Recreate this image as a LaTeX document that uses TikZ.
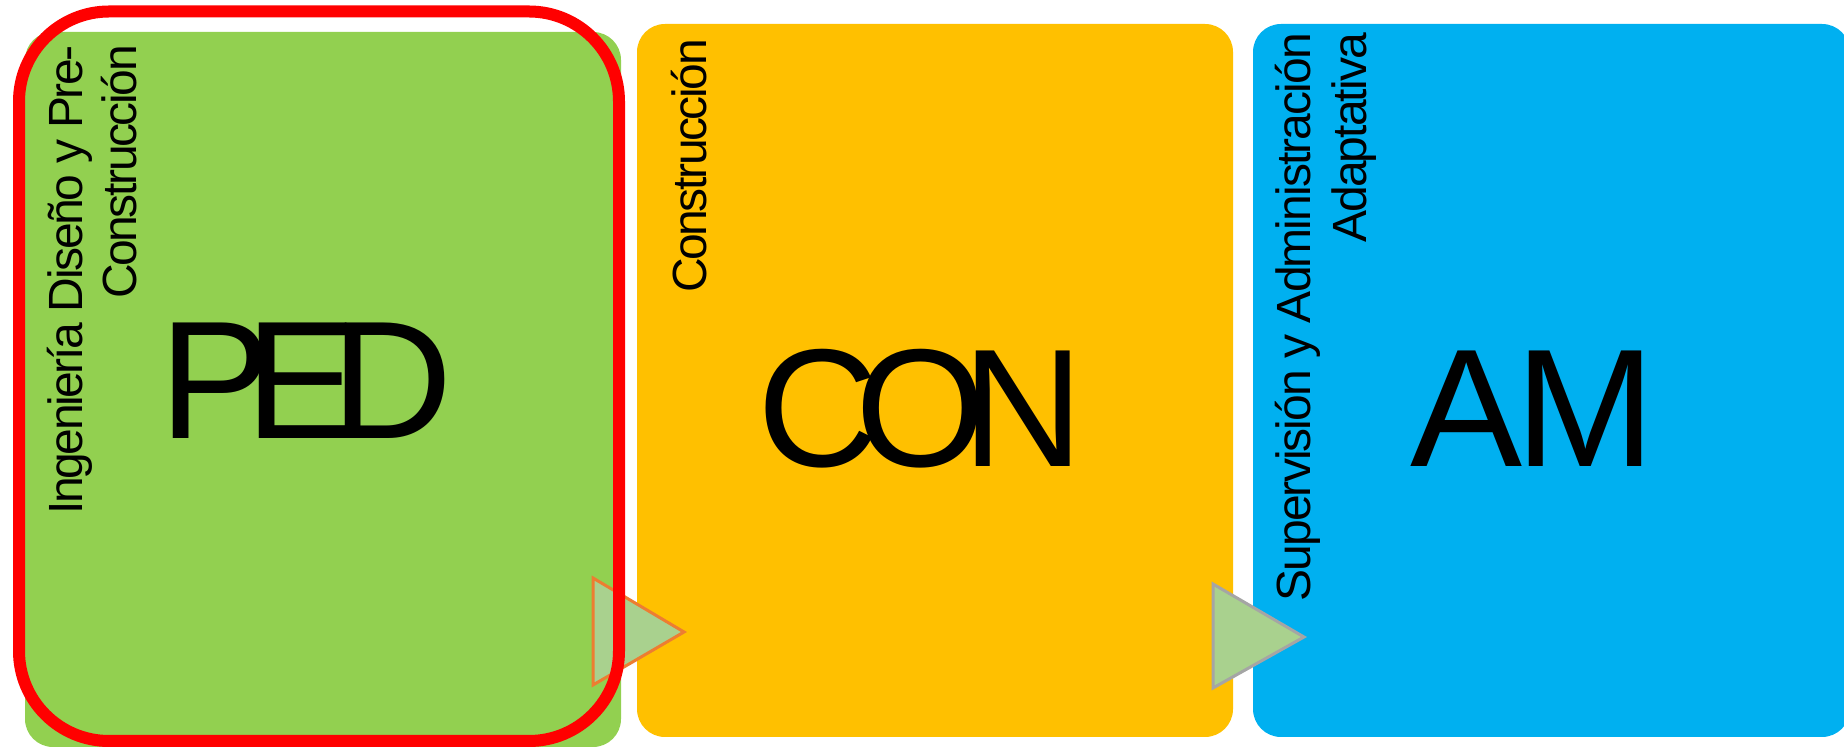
\documentclass[tikz,border=0pt]{standalone}
\usepackage{fontspec}
\setmainfont{Liberation Sans}
\newfontfamily\tightfont[LetterSpace=-5]{Liberation Sans}
\newfontfamily\tightfontb[LetterSpace=-4]{Liberation Sans}
\definecolor{pgreen}{HTML}{92D050}
\definecolor{porange}{HTML}{FFC000}
\definecolor{pblue}{HTML}{00B0F0}
\definecolor{trifill}{HTML}{A9D18E}
\definecolor{triorange}{HTML}{ED7D31}
\definecolor{trigray}{HTML}{A5A5A5}
\begin{document}
\begin{tikzpicture}[x=1pt,y=1pt,
  phase/.style={rectangle, rounded corners=28pt, inner sep=0pt, outer sep=0pt},
  steplabel/.style={rotate=90, anchor=base east, inner sep=0pt, font=\tightfont\fontsize{48}{55}\selectfont},
  steplabelb/.style={rotate=90, anchor=base east, inner sep=0pt, font=\tightfontb\fontsize{48}{55}\selectfont},
  bigtext/.style={anchor=base west, inner sep=0pt, font=\fontsize{168}{168}\selectfont},
  arrowtri/.style={fill=trifill, line width=3pt, line join=miter}]
\useasboundingbox (0,0) rectangle (1844,749);
% phase boxes
\node[phase, fill=pgreen, minimum width=596pt, minimum height=715pt] (ped) at (323,359.5) {};
\node[phase, fill=porange, minimum width=596pt, minimum height=713pt] (con) at (935,368.5) {};
\node[phase, fill=pblue, minimum width=597pt, minimum height=713pt] (am) at (1551.5,368.5) {};
% vertical labels
\node[steplabel] (pedl1) at (82,704) {Ingeniería Diseño y Pre-};
\node[steplabel] (pedl2) at (136,704) {Construcción};
\node[steplabel] (conl) at (706,710) {Construcción};
\node[steplabelb] (aml1) at (1310,716) {Supervisión y Administración};
\node[steplabelb] (aml2) at (1366,716) {Adaptativa};
% big abbreviations
\node[bigtext] (pedt) at (159,310) {P\kern-26pt E\kern-26pt D};
\node[bigtext] (cont) at (757,282) {C\kern-23pt O\kern-24pt N};
\node[bigtext] (amt) at (1410,282) {A\kern-7pt M};
% arrows between phases
\coordinate (t1a) at (593,171);
\coordinate (t1b) at (593,64);
\coordinate (t1c) at (684,117);
\draw[arrowtri, draw=triorange] (t1a) -- (t1b) -- (t1c) -- cycle;
\coordinate (t2a) at (1213,165);
\coordinate (t2b) at (1213,61);
\coordinate (t2c) at (1304,112);
\draw[arrowtri, draw=trigray] (t2a) -- (t2b) -- (t2c) -- cycle;
% red highlight frame
\node[rectangle, draw=red, line width=12pt, rounded corners=90pt, minimum width=600pt, minimum height=729.5pt, inner sep=0pt] (frame) at (319,372.75) {};
\end{tikzpicture}
\end{document}
